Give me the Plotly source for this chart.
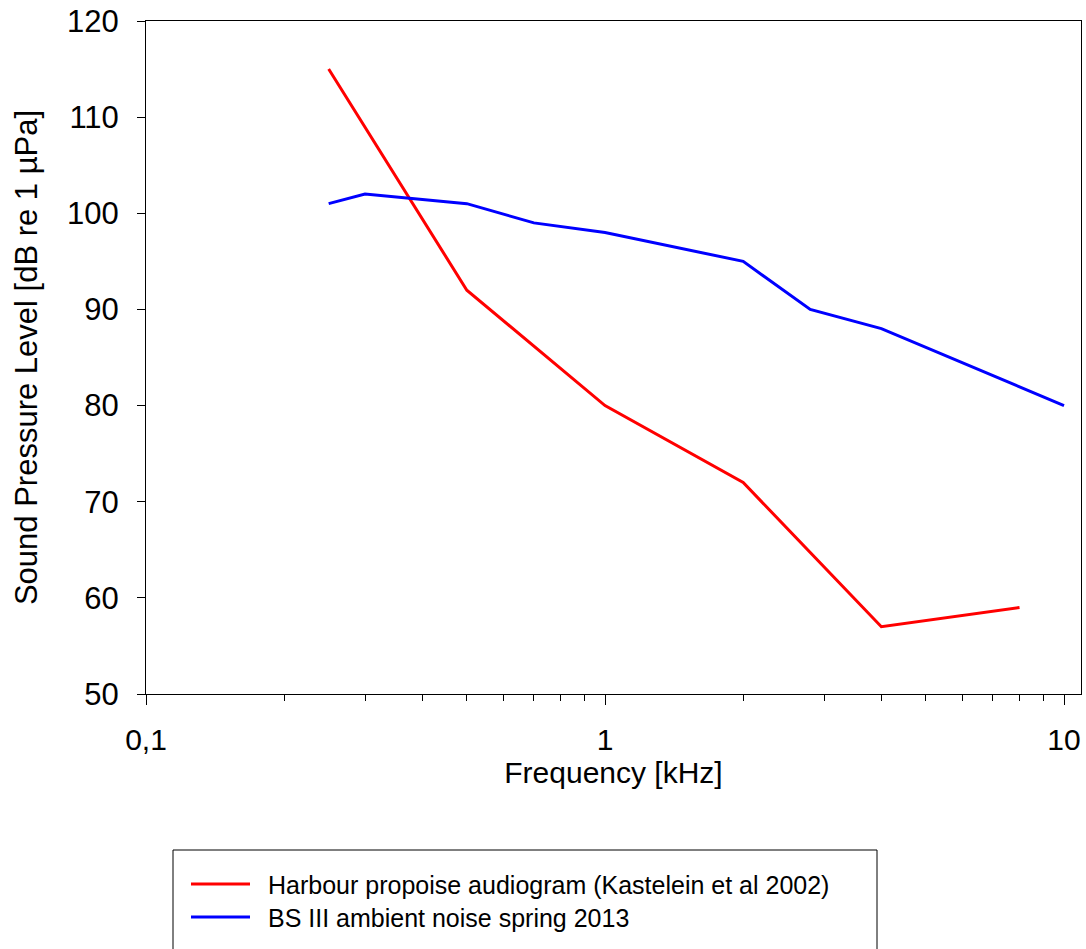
import plotly.graph_objects as go

# Harbour porpoise hearing threshold (Kastelein et al. 2002)
porpoise_khz = [0.25, 0.5, 1, 2, 4, 8]
porpoise_db = [115, 92, 80, 72, 57, 59]

# BS III ambient noise, spring 2013
noise_khz = [0.25, 0.3, 0.5, 0.7, 1, 2, 2.8, 4, 10]
noise_db = [101, 102, 101, 99, 98, 95, 90, 88, 80]

series_names = [
    "Harbour propoise audiogram (Kastelein et al 2002)",
    "BS III ambient noise spring 2013",
]
series_colors = ["#ff0000", "#0000ff"]

x_tickvals = [0.1, 1, 10]
x_ticktext = ["0,1", "1", "10"]
x_minor = [0.2, 0.3, 0.4, 0.5, 0.6, 0.7, 0.8, 0.9, 2, 3, 4, 5, 6, 7, 8, 9]
y_tickvals = [50, 60, 70, 80, 90, 100, 110, 120]

W, H = 1086, 949
L, R, T, B = 146, 5, 21, 255

FONT = "Liberation Sans, Arial, sans-serif"

fig = go.Figure()
for xs, ys, name, color in [
    (porpoise_khz, porpoise_db, series_names[0], series_colors[0]),
    (noise_khz, noise_db, series_names[1], series_colors[1]),
]:
    fig.add_trace(go.Scatter(
        x=xs, y=ys, mode="lines", name=name,
        line=dict(color=color, width=3), showlegend=False,
    ))

pw = W - L - R
ph = H - T - B


def px_x(p):
    return (p - L) / pw


def px_y(p):
    return (H - B - p) / ph


# legend panel below the plot: frame, line samples and labels
fig.add_shape(type="rect", xref="paper", yref="paper",
              x0=px_x(173), x1=px_x(877), y0=px_y(960), y1=px_y(850),
              line=dict(color="black", width=1), fillcolor="white", layer="below")
for i, (name, color) in enumerate(zip(series_names, series_colors)):
    yy = 884 + 33 * i
    fig.add_shape(type="line", xref="paper", yref="paper",
                  x0=px_x(191), x1=px_x(250), y0=px_y(yy), y1=px_y(yy),
                  line=dict(color=color, width=3))
    fig.add_annotation(xref="paper", yref="paper", x=px_x(266), y=px_y(yy + 1),
                       xanchor="left", yanchor="middle", showarrow=False,
                       text=name, font=dict(family=FONT, size=25, color="black"))

fig.update_layout(
    width=W, height=H,
    margin=dict(l=L, r=R, t=T, b=B),
    paper_bgcolor="white", plot_bgcolor="white",
    font=dict(family=FONT, size=30, color="black"),
    showlegend=False,
    xaxis=dict(
        type="log", range=[-1, 1.037],
        tickmode="array", tickvals=x_tickvals, ticktext=x_ticktext,
        ticks="outside", ticklen=10, tickwidth=1, tickcolor="black",
        minor=dict(tickmode="array", tickvals=x_minor, ticks="outside",
                   ticklen=6, tickwidth=1, tickcolor="black", showgrid=False),
        showline=True, linecolor="black", linewidth=1, mirror=True,
        showgrid=False, zeroline=False,
        ticklabelstandoff=9,
        title=dict(text="Frequency [kHz]", font=dict(size=30), standoff=6),
    ),
    yaxis=dict(
        range=[50, 120],
        tickmode="array", tickvals=y_tickvals, tickfont=dict(size=31),
        ticks="outside", ticklen=8, tickwidth=1, tickcolor="black",
        showline=True, linecolor="black", linewidth=1, mirror=True,
        showgrid=False, zeroline=False,
        ticklabelstandoff=12,
        title=dict(text="Sound Pressure Level [dB re 1 µPa]", font=dict(size=31), standoff=20),
    ),
)

fig.write_html("out.html")
